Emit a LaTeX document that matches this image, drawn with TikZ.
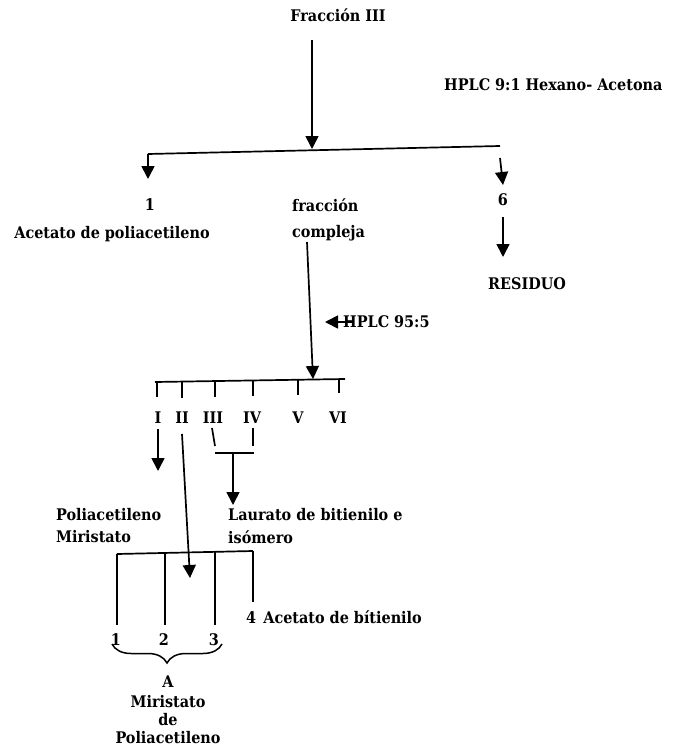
\documentclass[tikz,border=0pt]{standalone}
\usepackage{fontspec}
\setmainfont{DejaVu Serif Condensed}
\usetikzlibrary{arrows.meta,decorations.pathreplacing}
\begin{document}
\begin{tikzpicture}[x=1pt,y=-1pt,
  lbl/.style={inner sep=0pt, font=\fontsize{16}{18}\selectfont\bfseries},
  ln/.style={line width=1.7pt},
  arr/.style={ln, -{Triangle[length=13pt,width=13pt]}},
  brc/.style={line width=1.5pt, decorate, decoration={brace, mirror, amplitude=19pt}}
]
\useasboundingbox (0,0) rectangle (677,749);

% ---- top level
\node[lbl] (f3) at (338,15) {Fracción III};
\node[lbl,anchor=west] (hplc1) at (444,85) {HPLC 9:1 Hexano- Acetona};
\coordinate (f3b) at (312,40);
\coordinate (j1) at (312,149);
\coordinate (l1L) at (148,154);
\coordinate (l1R) at (500,146);
\draw[ln] (l1L) -- (l1R);
\draw[arr] (f3b) -- (j1);

\node[lbl] (n1) at (150,205) {1};
\node[lbl] (acet) at (112,234) {Acetato de poliacetileno};
\coordinate (n1t) at (148,179);
\draw[arr] (l1L) -- (n1t);

\node[lbl,anchor=west] (frac) at (292,205) {fracción};
\node[lbl,anchor=west] (comp) at (292,233) {compleja};

\coordinate (r6a) at (500,158);
\coordinate (r6b) at (503,185);
\draw[arr] (r6a) -- (r6b);
\node[lbl] (n6) at (503,200) {6};
\coordinate (r6c) at (503,217);
\coordinate (r6d) at (503,257);
\draw[arr] (r6c) -- (r6d);
\node[lbl,anchor=west] (res) at (488,284) {RESIDUO};

% ---- second separation
\coordinate (cpa) at (307,242);
\coordinate (j2) at (313,379);
\draw[arr] (cpa) -- (j2);
\node[lbl,anchor=west] (hplc2) at (343,322) {HPLC 95:5};
\coordinate (h2a) at (352,322);
\coordinate (h2b) at (325,322);
\draw[arr] (h2a) -- (h2b);

\coordinate (l2L) at (155,382);
\coordinate (l2R) at (345,379);
\draw[ln] (l2L) -- (l2R);
\foreach \x/\yt/\yb in {157/382/397, 182/381/398, 215/381/397, 253/380/396, 298/380/395, 339/379/393}
  \draw[ln] (\x,\yt) -- (\x,\yb);

\node[lbl] (rI)   at (158,418) {I};
\node[lbl] (rII)  at (182,418) {II};
\node[lbl] (rIII) at (213,418) {III};
\node[lbl] (rIV)  at (252,418) {IV};
\node[lbl] (rV)   at (298,418) {V};
\node[lbl] (rVI)  at (338,418) {VI};

% I
\coordinate (Ia) at (158,429);
\coordinate (Ib) at (158,471);
\draw[arr] (Ia) -- (Ib);
\node[lbl,anchor=west] (polA) at (56,515) {Poliacetileno};
\node[lbl,anchor=west] (mirA) at (56,537) {Miristato};

% III + IV
\coordinate (IIIa) at (212,428);
\coordinate (IIIb) at (215,446);
\coordinate (IVa) at (253,428);
\coordinate (IVb) at (253,446);
\draw[ln] (IIIa) -- (IIIb);
\draw[ln] (IVa) -- (IVb);
\coordinate (barL) at (215,453);
\coordinate (barR) at (254,453);
\coordinate (barM) at (233,453);
\draw[ln] (barL) -- (barR);
\coordinate (laut) at (233,505);
\draw[arr] (barM) -- (laut);
\node[lbl,anchor=west] (laur) at (228,515) {Laurato de bitienilo e};
\node[lbl,anchor=west] (isom) at (228,537) {isómero};

% II into the box
\coordinate (IIa) at (182,434);
\coordinate (IIb) at (190,578);

% box
\coordinate (b1) at (117,554);
\coordinate (b2) at (165,553);
\coordinate (b3) at (215,552);
\coordinate (b4) at (253,551);
\draw[ln] (b1) -- (b4);
\draw[ln] (b1) -- (117,625);
\draw[ln] (b2) -- (165,625);
\draw[ln] (b3) -- (215,625);
\draw[ln] (b4) -- (253,602);
\draw[arr] (IIa) -- (IIb);

\node[lbl,anchor=west] (ac4) at (246,617) {4\hspace{0.45em}Acetato de bítienilo};

\node[lbl] (k1) at (116,640) {1};
\node[lbl] (k2) at (164,640) {2};
\node[lbl] (k3) at (214,640) {3};
\coordinate (brL) at (112,644);
\coordinate (brR) at (222,644);
\draw[brc] (brL) -- (brR);

\node[lbl] (tA)  at (168,682) {A};
\node[lbl] (tM)  at (168,702) {Miristato};
\node[lbl] (tde) at (168,720) {de};
\node[lbl] (tP)  at (168,738) {Poliacetileno};
\end{tikzpicture}
\end{document}
